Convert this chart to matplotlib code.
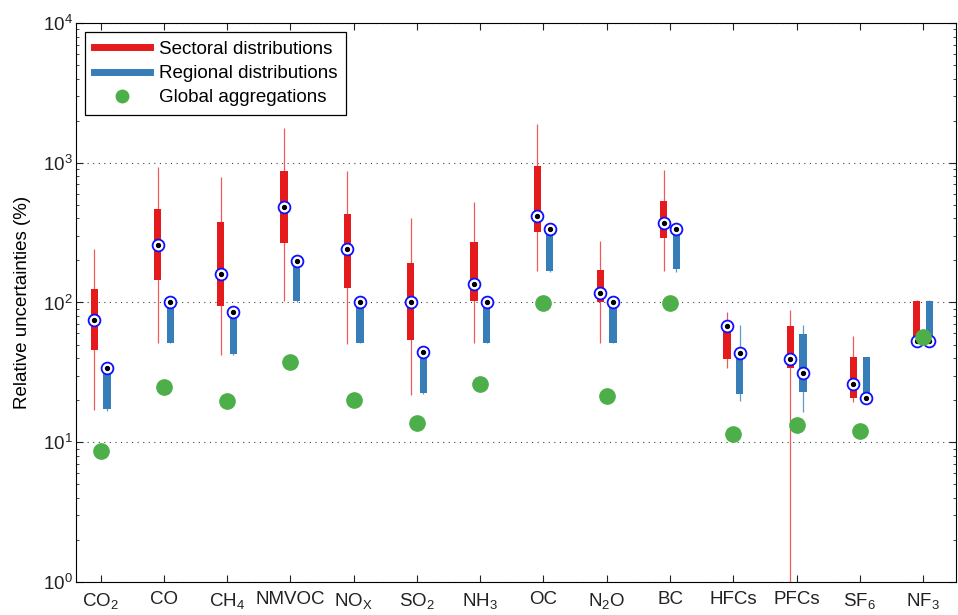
import numpy as np
import matplotlib
matplotlib.use("Agg")
import matplotlib.pyplot as plt
from matplotlib.lines import Line2D

OUTPUT_FILE = "out.png"

SPECIES = ["CO$_2$", "CO", "CH$_4$", "NMVOC", "NO$_X$", "SO$_2$", "NH$_3$",
           "OC", "N$_2$O", "BC", "HFCs", "PFCs", "SF$_6$", "NF$_3$"]

# sectoral distributions (red)
sec_hi = [241, 937, 795, 1782, 877, 400, 520, 1884, 274, 888, 85, 88, 58, 105]
sec_q3 = [124, 464, 377, 877, 428, 192, 271, 944, 171, 533, 73, 68, 40.5, 103]
sec_med = [74.6, 258, 161, 480, 241, 100, 136, 416, 116, 369, 68, 39.4, 26.1, 53]
sec_q1 = [45.9, 145, 95, 267, 128, 54, 103, 319, 101, 288, 39.2, 34.2, 20.8, 53]
sec_lo = [17, 51, 42.4, 102, 50.7, 21.9, 51, 169, 51, 169, 33.8, 0.5, 19.5, 53]

# regional distributions (blue)
reg_hi = [34, 100, 85, 199, 100, 44.4, 100, 333, 100, 336, 69.5, 69.5, 40.7, 105]
reg_q3 = [34, 100, 85, 199, 100, 44.4, 100, 333, 100, 336, 43.5, 59.5, 40.7, 103]
reg_med = [34, 100, 85, 199, 100, 44.4, 100, 333, 100, 336, 43.5, 31.1, 20.6, 53]
reg_q1 = [17.2, 51.6, 42.8, 102, 51.6, 22.4, 51.6, 169, 51.6, 173, 22.2, 23, 20.6, 53]
reg_lo = [16.8, 51, 42, 100, 51, 22, 51, 166, 51, 166, 19.8, 16.5, 20.6, 53]

# global aggregations (green)
glob = [8.7, 24.7, 19.8, 37.7, 20.1, 13.8, 26.1, 98.7, 21.4, 98.7, 11.5, 13.3, 12.1, 56.9]

RED = "#e41a1c"
RED_LIGHT = "#f0595a"
BLUE = "#377eb8"
BLUE_LIGHT = "#5b9bd0"
GREEN = "#4daf4a"
FS = 13.5


def draw_boxes(ax, x, lo, q1, med, q3, hi, color, whisker_color):
    lo, q1, q3, hi = map(np.asarray, (lo, q1, q3, hi))
    ax.vlines(x, lo, hi, color=whisker_color, lw=0.9, zorder=2)
    ax.bar(x, q3 - q1, bottom=q1, width=0.115, color=color, zorder=3)
    ax.plot(x, med, "o", ms=8.5, mfc="white", mec="#1010ff", mew=1.3,
            ls="none", zorder=4)
    ax.plot(x, med, "o", ms=2.8, color="black", ls="none", zorder=5)


def main():
    plt.rcParams["font.family"] = ["Liberation Sans", "DejaVu Sans"]
    plt.rcParams["mathtext.fontset"] = "custom"
    plt.rcParams["mathtext.rm"] = "Liberation Sans"
    plt.rcParams["mathtext.default"] = "regular"

    fig = plt.figure(figsize=(9.58, 6.15), dpi=100)
    ax = fig.add_axes([0.0793, 0.0537, 0.9186, 0.9089])

    pos = np.arange(1, len(SPECIES) + 1)

    draw_boxes(ax, pos - 0.1, sec_lo, sec_q1, sec_med, sec_q3, sec_hi,
               RED, RED_LIGHT)
    draw_boxes(ax, pos + 0.1, reg_lo, reg_q1, reg_med, reg_q3, reg_hi,
               BLUE, BLUE_LIGHT)
    ax.plot(pos, glob, "o", ms=11, color=GREEN, ls="none", zorder=6)

    ax.set_yscale("log")
    ax.set_ylim(1, 1e4)
    ax.set_xlim(0.61, 14.52)
    ax.set_xticks(pos)
    ax.set_xticklabels(SPECIES, fontsize=FS)
    ax.tick_params(axis="y", labelsize=FS, pad=2.5)
    ax.tick_params(axis="x", pad=6.5)
    ax.tick_params(which="both", direction="in", top=True, right=True,
                   colors="#222222", labelcolor="#222222")
    ax.tick_params(which="major", length=5)
    ax.tick_params(which="minor", length=2.5)
    ax.tick_params(axis="x", which="minor", top=False, bottom=False)
    ax.yaxis.grid(True, which="major", ls=(0, (1, 4)), color="#444444", lw=0.8)
    ax.set_axisbelow(True)
    ax.set_ylabel("Relative uncertainties (%)", fontsize=FS, labelpad=8)

    handles = [
        Line2D([], [], color=RED, lw=5),
        Line2D([], [], color=BLUE, lw=5),
        Line2D([], [], color=GREEN, marker="o", ms=9, ls="none"),
    ]
    leg = ax.legend(handles, ["Sectoral distributions", "Regional distributions",
                              "Global aggregations"],
                    loc="upper left", fontsize=FS, handlelength=3,
                    labelspacing=0.38, borderaxespad=0.5, fancybox=False,
                    framealpha=1, borderpad=0.45, handletextpad=0.5)
    leg.get_frame().set_edgecolor("black")
    leg.get_frame().set_linewidth(0.9)

    fig.savefig(OUTPUT_FILE, dpi=100)
    plt.close(fig)


if __name__ == "__main__":
    main()
